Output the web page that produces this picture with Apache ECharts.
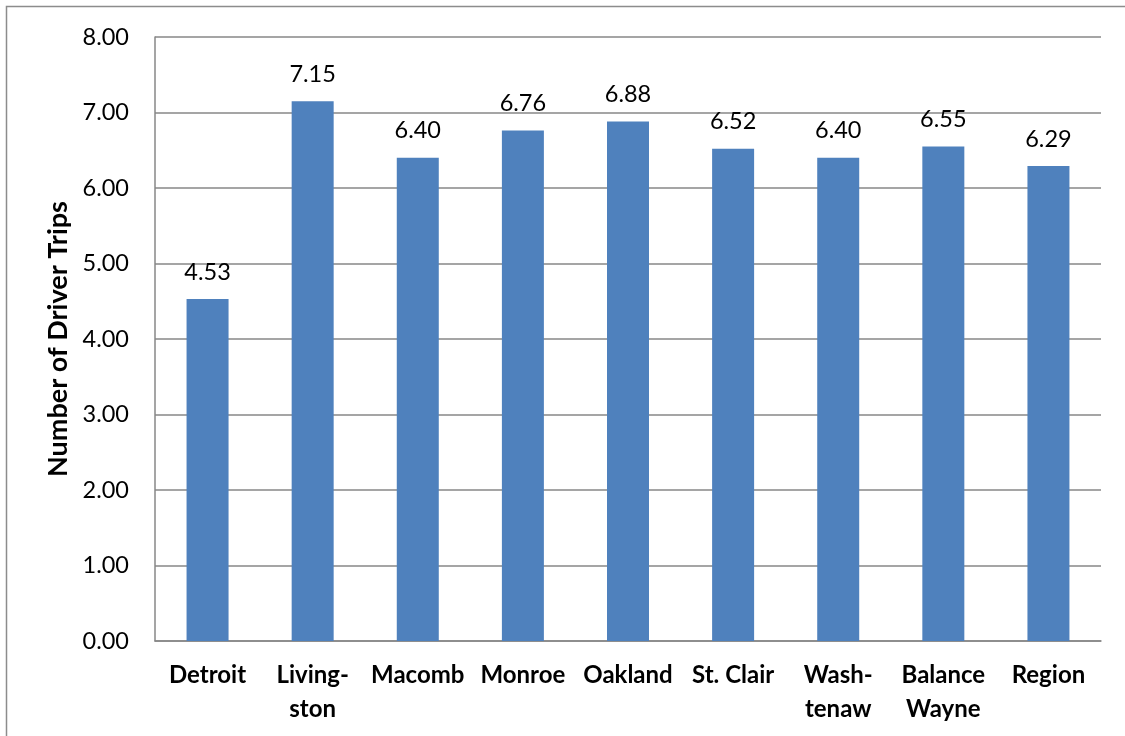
<!DOCTYPE html>
<html>
<head>
<meta charset="utf-8">
<script src="https://cdn.jsdelivr.net/npm/echarts@6/dist/echarts.min.js"></script>
<style>
html,body{margin:0;padding:0;background:#fff;}
#chart{width:1125px;height:736px;}
</style>
</head>
<body>
<div id="chart"></div>
<script>
const categories = ["Detroit", "Living-\nston", "Macomb", "Monroe", "Oakland", "St. Clair", "Wash-\ntenaw", "Balance\nWayne", "Region"];
const driverTrips = [4.53, 7.15, 6.40, 6.76, 6.88, 6.52, 6.40, 6.55, 6.29];
const yAxisTitle = "Number of Driver Trips";

const chart = echarts.init(document.getElementById('chart'));
const FONT = 'Lato, "Open Sans", sans-serif';
chart.setOption({
  animation: false,
  backgroundColor: '#ffffff',
  graphic: [{
    type: 'rect',
    shape: { x: 6.5, y: 6.5, width: 1300, height: 900 },
    style: { fill: 'none', stroke: '#8c8c8c', lineWidth: 1.5 },
    silent: true
  }],
  grid: { left: 155, right: 24, top: 37, bottom: 95, containLabel: false },
  xAxis: {
    type: 'category',
    data: categories,
    axisLine: { show: true, lineStyle: { color: '#878787', width: 1.5 } },
    axisTick: { show: false },
    axisLabel: {
      interval: 0,
      color: '#000',
      fontFamily: FONT,
      fontWeight: 'bold',
      fontSize: 24,
      lineHeight: 34,
      margin: 17
    }
  },
  yAxis: {
    type: 'value',
    min: 0,
    max: 8,
    interval: 1,
    name: yAxisTitle,
    nameLocation: 'middle',
    nameGap: 79,
    nameRotate: 90,
    nameTextStyle: { color: '#000', fontFamily: FONT, fontWeight: 'bold', fontSize: 27 },
    axisLine: { show: true, lineStyle: { color: '#878787', width: 1.5 } },
    axisTick: { show: false },
    splitLine: { show: true, lineStyle: { color: '#878787', width: 1.5 } },
    axisLabel: {
      color: '#000',
      fontFamily: FONT,
      fontSize: 23.5,
      margin: 26,
      formatter: v => v.toFixed(2)
    }
  },
  series: [{
    type: 'bar',
    data: driverTrips,
    barWidth: 42,
    itemStyle: { color: '#4f81bd' },
    label: {
      show: true,
      position: 'top',
      distance: 15,
      color: '#000',
      fontFamily: FONT,
      fontSize: 23.5,
      formatter: p => p.value.toFixed(2)
    }
  }]
});
</script>
</body>
</html>
